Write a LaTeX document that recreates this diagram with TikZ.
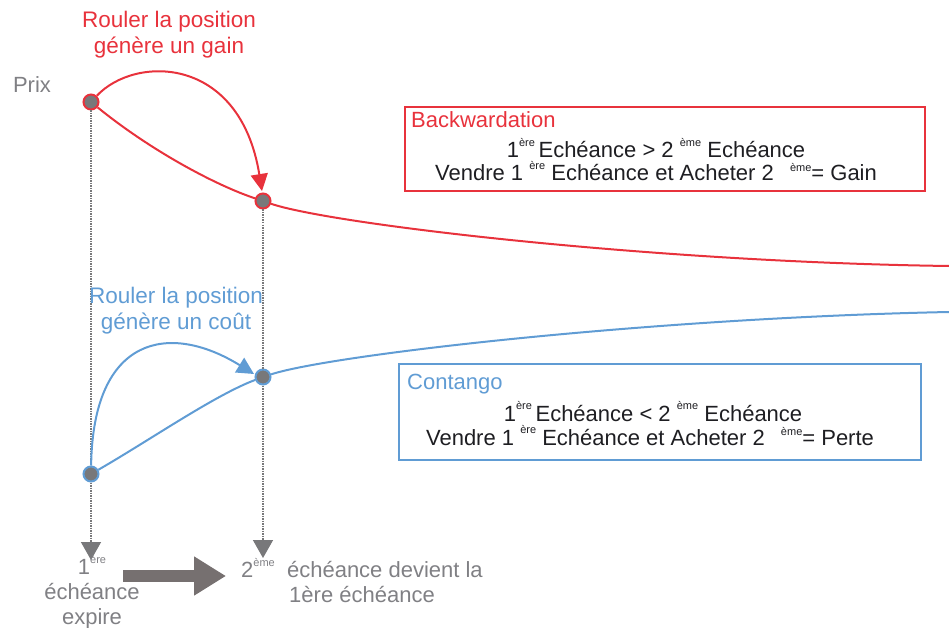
\documentclass[tikz,border=0pt]{standalone}
\usepackage{fontspec}
\setmainfont{Liberation Sans}
\usetikzlibrary{arrows.meta}
\definecolor{gainred}{RGB}{232,50,60}
\definecolor{costblue}{RGB}{96,156,212}
\definecolor{dotgray}{RGB}{120,120,122}
\definecolor{labelgray}{RGB}{128,128,132}
\definecolor{arrowgray}{RGB}{118,112,112}
\definecolor{textdark}{RGB}{30,30,34}
\newcommand{\expo}[2][0.95ex]{\raisebox{#1}{\fontsize{11}{11}\selectfont #2}}

\begin{document}
\begin{tikzpicture}[
                x=1pt, y=-1pt,
                pricedot/.style={circle, fill=dotgray, draw=#1, line width=2pt, minimum size=15pt, inner sep=0pt},
                pricecurve/.style={line width=2pt, draw=#1},
                roll/.style={line width=2pt, draw=#1, -{Triangle[length=17pt, width=17pt]}},
                guide/.style={densely dotted, draw=dotgray, line width=1.5pt},
                guidetip/.style={-{Triangle[length=18pt, width=20pt]}},
                legendbox/.style={draw=#1, line width=2pt, anchor=north west, inner sep=0pt},
                boxtitle/.style={font=\fontsize{22}{26}\selectfont, anchor=base west, inner sep=0pt},
                boxtext/.style={font=\fontsize{22}{26}\selectfont, text=textdark, anchor=base, inner sep=0pt},
                rolltext/.style={font=\fontsize{22.5}{26}\selectfont, align=center},
                axistext/.style={font=\fontsize{22}{25}\selectfont, text=labelgray, align=center},
            ]
                \useasboundingbox (0, 0) rectangle (949, 628);

                \node[pricedot=gainred] (first-back) at (91, 102) {};
                \node[pricedot=gainred] (second-back) at (263, 201) {};
                \node[pricedot=costblue] (first-cont) at (91, 474) {};
                \node[pricedot=costblue] (second-cont) at (263, 377) {};
                \coordinate (first-tip) at (91, 560);
                \coordinate (second-tip) at (263, 558);
                \coordinate (back-end) at (949, 266);
                \coordinate (cont-end) at (949, 312);
                \coordinate (gain-tip) at (262, 191);
                \coordinate (cost-tip) at (254, 374);

                \draw[guide] (first-back) -- (first-cont);
                \draw[guide, guidetip] (first-cont) -- (first-tip);
                \draw[guide] (second-back) -- (second-cont);
                \draw[guide, guidetip] (second-cont) -- (second-tip);

                \draw[pricecurve=gainred] (first-back) .. controls (150, 150) and (215, 185) .. (second-back);
                \draw[pricecurve=gainred] (second-back) .. controls (330, 224) and (650, 262) .. (back-end);
                \draw[pricecurve=costblue] (first-cont) .. controls (150, 440) and (215, 395) .. (second-cont);
                \draw[pricecurve=costblue] (second-cont) .. controls (330, 355) and (650, 318) .. (cont-end);

                \draw[roll=gainred] (first-back) .. controls (135, 55) and (240, 55) .. (gain-tip);
                \draw[roll=costblue] (first-cont) .. controls (93, 335) and (170, 322) .. (cost-tip);

                \node[rolltext, text=gainred] (gain-label) at (169, 35) {Rouler la position\\génère un gain};
                \node[rolltext, text=costblue] (cost-label) at (176, 311) {Rouler la position\\génère un coût};
                \node[axistext] (price-label) at (32, 85) {Prix};

                \node[legendbox=gainred, minimum width=520pt, minimum height=84pt] (back-box) at (404, 106) {};
                \node[boxtitle, text=gainred] (back-title) at (411, 128) {Backwardation};
                \node[boxtext] (back-rule) at (656, 158) {1\expo{ère}\,Echéance > 2 \expo{ème} Echéance};
                \node[boxtext] (back-trade) at (656, 181) {Vendre 1 \expo{ère} Echéance et Acheter 2 \hspace{10pt}\expo[0.85ex]{ème}= Gain};

                \node[legendbox=costblue, minimum width=522pt, minimum height=96pt] (cont-box) at (398, 363) {};
                \node[boxtitle, text=costblue] (cont-title) at (407, 389) {Contango};
                \node[boxtext] (cont-rule) at (653, 421) {1\expo{ère}\,Echéance < 2 \expo{ème} Echéance};
                \node[boxtext] (cont-trade) at (650, 445) {Vendre 1 \expo{ère} Echéance et Acheter 2 \hspace{10pt}\expo[0.85ex]{ème}= Perte};

                \node[axistext] (expiry-label) at (92, 592) {1\expo{ère}\\échéance\\expire};
                \node[axistext] (roll-label) at (362, 581) {2\expo{ème}\; échéance devient la\\1ère échéance};
                \coordinate (shift-start) at (123, 576);
                \coordinate (shift-end) at (226, 576);
                \draw[line width=12pt, draw=arrowgray, -{Triangle[length=32pt, width=37pt]}] (shift-start) -- (shift-end);

            \end{tikzpicture}
\end{document}
